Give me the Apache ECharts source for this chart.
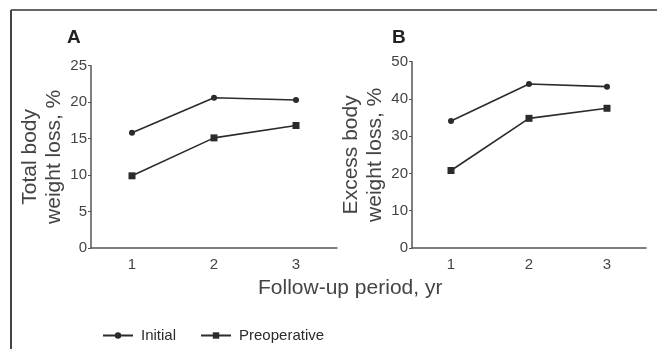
<!DOCTYPE html>
<html>
<head>
<meta charset="utf-8">
<script src="https://cdn.jsdelivr.net/npm/echarts@6/dist/echarts.min.js"></script>
<style>
  html, body { margin: 0; padding: 0; background: #fff; }
  #main { width: 658px; height: 349px; }
</style>
</head>
<body>
<div id="main"></div>
<script>
const years = ["1", "2", "3"];
// panel A: total body weight loss, %
const tbwlInitial = [15.8, 20.6, 20.3];
const tbwlPreop = [9.9, 15.1, 16.8];
// panel B: excess body weight loss, %
const ebwlInitial = [34.1, 44.0, 43.3];
const ebwlPreop = [20.8, 34.8, 37.5];

const FONT = "Liberation Sans";
const INK = "#2b2b2b";

const chart = echarts.init(document.getElementById("main"));

function xAx(idx) {
  return {
    type: "category",
    gridIndex: idx,
    data: years,
    boundaryGap: true,
    axisLine: { lineStyle: { color: "#555", width: 1.5 } },
    axisTick: { alignWithLabel: true, length: 4, lineStyle: { color: "#555" } },
    axisLabel: { color: "#444", fontSize: 15, fontFamily: FONT, margin: 9 },
  };
}

function yAx(idx, max, interval, name, gap) {
  return {
    type: "value",
    gridIndex: idx,
    min: 0,
    max: max,
    interval: interval,
    name: name,
    nameLocation: "middle",
    nameGap: gap,
    nameTextStyle: { color: "#444", fontSize: 21, fontFamily: FONT, lineHeight: 24 },
    splitLine: { show: false },
    axisLine: { show: true, lineStyle: { color: "#555", width: 1.5 } },
    axisTick: { show: true, length: 3, lineStyle: { color: "#555" } },
    axisLabel: { color: "#444", fontSize: 15, fontFamily: FONT, margin: 4 },
  };
}

function line(name, data, idx, symbol, size) {
  return {
    name: name,
    type: "line",
    xAxisIndex: idx,
    yAxisIndex: idx,
    data: data,
    symbol: symbol,
    symbolSize: size,
    lineStyle: { color: INK, width: 1.6 },
    itemStyle: { color: INK },
  };
}

const option = {
  animation: false,
  grid: [
    { left: 91, top: 65.7, width: 246, height: 182.3 },
    { left: 412, top: 61.7, width: 234, height: 186.3 },
  ],
  xAxis: [xAx(0), xAx(1)],
  yAxis: [
    yAx(0, 25, 5, "Total body\nweight loss, %", 25),
    yAx(1, 50, 10, "Excess body\nweight loss, %", 22),
  ],
  legend: {
    left: 97,
    top: 323,
    itemWidth: 30,
    itemHeight: 8,
    itemGap: 24,
    textStyle: { color: INK, fontSize: 15, fontFamily: FONT, padding: [0, 0, 0, 3] },
    data: ["Initial", "Preoperative"],
  },
  graphic: [
    { type: "line", shape: { x1: 11, y1: 10, x2: 657, y2: 10 }, style: { stroke: "#666", lineWidth: 2 } },
    { type: "line", shape: { x1: 11, y1: 10, x2: 11, y2: 349 }, style: { stroke: "#444", lineWidth: 2 } },
    { type: "text", left: 67, top: 28, style: { text: "A", fontSize: 19, fontWeight: "bold", fontFamily: FONT, fill: "#222" } },
    { type: "text", left: 392, top: 28, style: { text: "B", fontSize: 19, fontWeight: "bold", fontFamily: FONT, fill: "#222" } },
    { type: "text", left: 258, top: 278, style: { text: "Follow-up period, yr", fontSize: 21, fontFamily: FONT, fill: "#444" } },
  ],
  series: [
    line("Initial", tbwlInitial, 0, "circle", 6),
    line("Preoperative", tbwlPreop, 0, "rect", 7),
    line("Initial", ebwlInitial, 1, "circle", 6),
    line("Preoperative", ebwlPreop, 1, "rect", 7),
  ],
};

chart.setOption(option);
</script>
</body>
</html>
